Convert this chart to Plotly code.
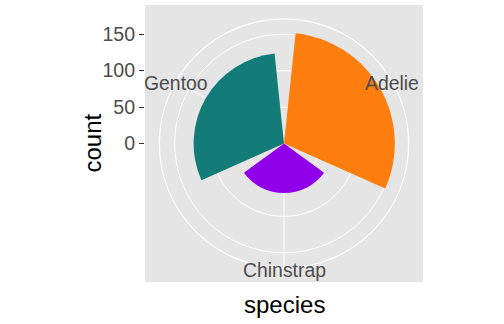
import math
import plotly.graph_objects as go

species = ["Adelie", "Chinstrap", "Gentoo"]
counts = [152, 68, 124]
colors = ["#FD7E0E", "#9000E8", "#137B78"]
r_breaks = [0, 50, 100, 150]

W, H = 504, 324
ML, MR, MT, MB = 145, 81, 5, 42
BG = "#E5E5E5"
TXT = "#4D4D4D"
PW, PH = W - ML - MR, H - MT - MB

rmax = max(counts)
r_outer = rmax / 0.4 * 0.45      # ggplot coord_polar outer ring
r_half = rmax / 0.4 * 0.5        # panel half-size in data units
n = len(species)

fig = go.Figure()

fig.add_trace(go.Barpolar(
    r=counts, theta=species,
    marker=dict(color=colors, line=dict(width=0)),
    showlegend=False, hoverinfo="skip",
))
# invisible trace to activate the cartesian y axis
fig.add_trace(go.Scatter(x=[0], y=[0], mode="markers",
                         marker=dict(opacity=0), showlegend=False,
                         hoverinfo="skip"))

# theta labels on the outer ring (ggplot style, centred on the ring)
annotations = []
for i, s in enumerate(species):
    ang = math.radians((i + 0.5) * 360 / n)
    annotations.append(dict(
        text=s, xref="x", yref="y",
        x=r_outer * math.sin(ang), y=r_outer * math.cos(ang),
        xanchor="center", yanchor="middle", yshift=-2, showarrow=False,
        font=dict(size=19.4, color=TXT)))

annotations += [
    dict(text="species", xref="paper", yref="paper", x=0.5, y=0,
         yshift=-22, yanchor="middle", showarrow=False,
         font=dict(size=24, color="black")),
    dict(text="count", xref="paper", yref="paper", x=0, y=0.5,
         xshift=-53, xanchor="center", textangle=-90, showarrow=False,
         font=dict(size=24, color="black")),
]

fig.update_layout(
    width=W, height=H,
    margin=dict(l=ML, r=MR, t=MT, b=MB),
    paper_bgcolor="white",
    plot_bgcolor=BG,
    font=dict(family="Liberation Sans, Arial", color=TXT),
    xaxis=dict(range=[-r_half * PW / PH, r_half * PW / PH], visible=False,
               fixedrange=True),
    yaxis=dict(range=[-r_half, r_half], tickvals=r_breaks,
               ticktext=[str(v) for v in r_breaks],
               ticks="outside", ticklen=5, tickwidth=1.2, tickcolor="#333333",
               tickfont=dict(size=19.6, color=TXT),
               showgrid=False, zeroline=False, showline=False,
               fixedrange=True),
    polar=dict(
        domain=dict(x=[0.05, 0.95], y=[0.05, 0.95]),
        bgcolor=BG,
        bargap=0.1,
        radialaxis=dict(range=[0, r_outer], tickvals=r_breaks[1:],
                        showticklabels=False, ticks="", showline=False,
                        gridcolor="white", gridwidth=1.2,
                        layer="below traces"),
        angularaxis=dict(type="category", categoryarray=species,
                         rotation=90 - 180 / n, direction="clockwise",
                         showticklabels=False, ticks="",
                         showline=True, linecolor="white", linewidth=1.2,
                         gridcolor="white", gridwidth=1.2,
                         layer="below traces"),
    ),
    annotations=annotations,
)

fig.write_html("out.html")
